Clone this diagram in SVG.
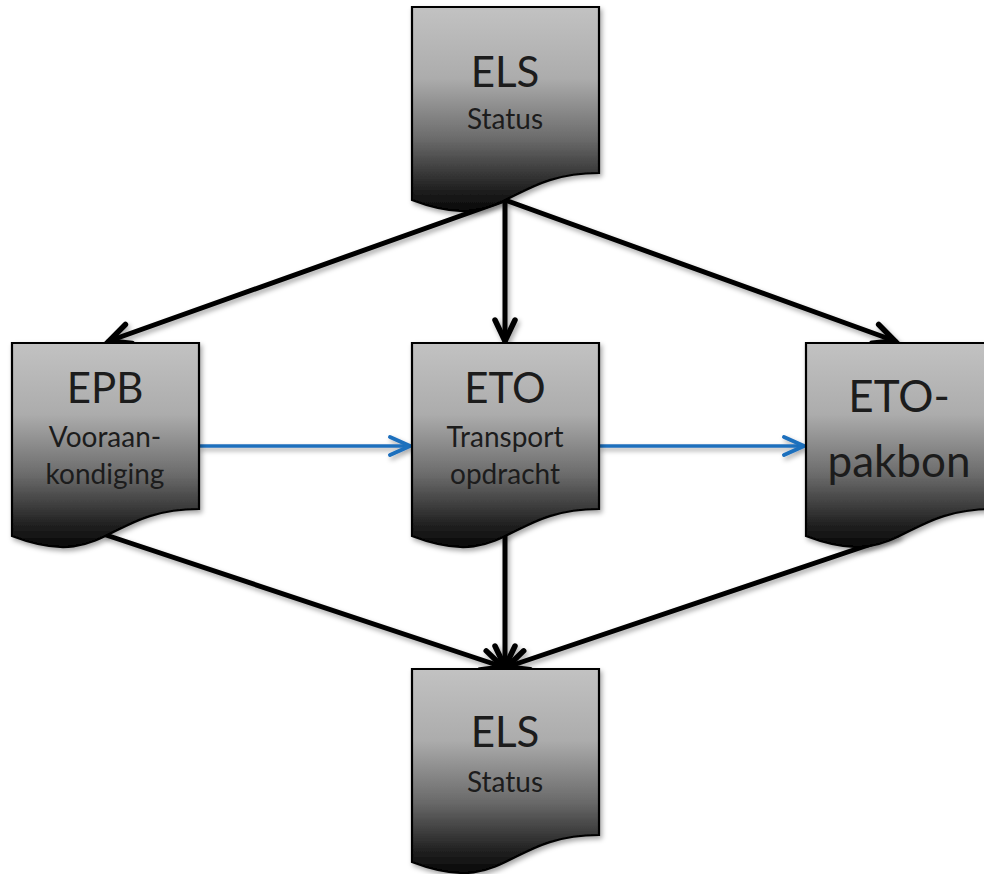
<svg xmlns="http://www.w3.org/2000/svg" width="984" height="874" viewBox="0 0 984 874">
<defs>
<style>
.doc{fill:url(#g);stroke:#000;stroke-width:2.2}
.t{font-family:Lato,"Open Sans","Liberation Sans",sans-serif;fill:#1c1c1c;text-anchor:middle}
.big{font-size:42px}
.pk{font-size:44px}
.sm{font-size:28px}
.k{stroke:#000;stroke-width:5;fill:none;stroke-linecap:round}
.b{stroke:#1f6fbd;stroke-width:3.5;fill:none}
</style>
<linearGradient id="g" x1="0" y1="0" x2="0" y2="1">
<stop offset="0" stop-color="#c2c2c2"/>
<stop offset="0.35" stop-color="#acacac"/>
<stop offset="0.65" stop-color="#6a6a6a"/>
<stop offset="0.9" stop-color="#1e1e1e"/>
<stop offset="1" stop-color="#080808"/>
</linearGradient>
<filter id="sh" x="-10%" y="-10%" width="125%" height="125%">
<feDropShadow dx="2" dy="3" stdDeviation="2.5" flood-color="#000" flood-opacity="0.35"/>
</filter>
<marker id="ak" markerUnits="userSpaceOnUse" markerWidth="40" markerHeight="40" viewBox="-30 -20 40 40" refX="0" refY="0" orient="auto">
<path d="M-21,-10 L0,0 L-21,10" fill="none" stroke="#000" stroke-width="5.5" stroke-linecap="round" stroke-linejoin="miter"/>
</marker>
<marker id="ab" markerUnits="userSpaceOnUse" markerWidth="40" markerHeight="40" viewBox="-30 -20 40 40" refX="0" refY="0" orient="auto">
<path d="M-20,-9 L0,0 L-20,9" fill="none" stroke="#1f6fbd" stroke-width="4" stroke-linecap="round"/>
</marker>
<path id="docshape" d="M0,0 H187 V166 C93.5,166 93.5,229 0,193 Z"/>
</defs>
<rect width="984" height="874" fill="#fff"/>

<g id="connectors" filter="url(#sh)">
<line class="k" x1="505" y1="200" x2="109" y2="341" marker-end="url(#ak)"/>
<line class="k" x1="505" y1="200" x2="505" y2="341" marker-end="url(#ak)"/>
<line class="k" x1="505" y1="200" x2="895" y2="341" marker-end="url(#ak)"/>
<line class="k" x1="106" y1="535" x2="503" y2="667" marker-end="url(#ak)"/>
<line class="k" x1="505" y1="535" x2="505" y2="667" marker-end="url(#ak)"/>
<line class="k" x1="898" y1="535" x2="507" y2="667" marker-end="url(#ak)"/>
<line class="b" x1="199" y1="446" x2="410" y2="446" marker-end="url(#ab)"/>
<line class="b" x1="599" y1="446" x2="804" y2="446" marker-end="url(#ab)"/>
</g>

<g id="els-top">
<use href="#docshape" class="doc" transform="translate(412,7)" filter="url(#sh)"/>
<text class="t big" x="505" y="87">ELS</text>
<text class="t sm" x="505" y="129">Status</text>
</g>

<g id="epb">
<use href="#docshape" class="doc" transform="translate(12,343)" filter="url(#sh)"/>
<text class="t big" x="105" y="403">EPB</text>
<text class="t sm" x="105" y="447">Vooraan-</text>
<text class="t sm" x="105" y="484">kondiging</text>
</g>

<g id="eto">
<use href="#docshape" class="doc" transform="translate(412,343)" filter="url(#sh)"/>
<text class="t big" x="505" y="403">ETO</text>
<text class="t sm" x="505" y="447">Transport</text>
<text class="t sm" x="505" y="484">opdracht</text>
</g>

<g id="eto-pakbon">
<use href="#docshape" class="doc" transform="translate(806,343)" filter="url(#sh)"/>
<text class="t pk" x="899" y="412">ETO-</text>
<text class="t pk" x="899" y="477">pakbon</text>
</g>

<g id="els-bottom">
<use href="#docshape" class="doc" transform="translate(412,669)" filter="url(#sh)"/>
<text class="t big" x="505" y="747">ELS</text>
<text class="t sm" x="505" y="792">Status</text>
</g>
</svg>
